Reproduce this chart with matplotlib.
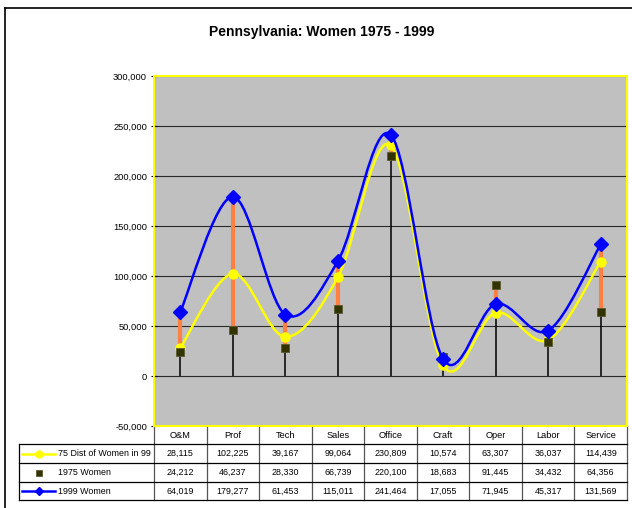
import matplotlib
matplotlib.use('Agg')
import matplotlib.pyplot as plt
from matplotlib.path import Path
from matplotlib.patches import PathPatch
import matplotlib.transforms as mtransforms
from matplotlib.lines import Line2D
import numpy as np

plt.rcParams['font.family'] = ['Liberation Sans', 'DejaVu Sans']

categories = ['O&M', 'Prof', 'Tech', 'Sales', 'Office', 'Craft', 'Oper', 'Labor', 'Service']
dist75 = [28115, 102225, 39167, 99064, 230809, 10574, 63307, 36037, 114439]
women1975 = [24212, 46237, 28330, 66739, 220100, 18683, 91445, 34432, 64356]
women1999 = [64019, 179277, 61453, 115011, 241464, 17055, 71945, 45317, 131569]
series_labels = ['75 Dist of Women in 99', '1975 Women', '1999 Women']
yticks = [-50000, 0, 50000, 100000, 150000, 200000, 250000, 300000]
title = 'Pennsylvania: Women 1975 - 1999'

W, H = 632, 508
fig = plt.figure(figsize=(W / 100, H / 100), dpi=100)
fig.patch.set_facecolor('white')


def fx(px):
    return px / W


def fy(py):
    return 1 - py / H


L, R, T, B = 154, 627, 76, 426
ax = fig.add_axes([fx(L), fy(B), (R - L) / W, (B - T) / H])
ax.set_facecolor('#C0C0C0')
n = len(categories)
x = np.arange(n)
ax.set_xlim(-0.5, n - 0.5)
ax.set_ylim(-50000, 300000)
ax.set_yticks(yticks)
ax.set_yticklabels([f'{v:,}' for v in yticks], fontsize=6.7)
ax.set_xticks([])
ax.yaxis.grid(True, color='#2a2a2a', lw=0.8)
ax.set_axisbelow(True)
for s in ax.spines.values():
    s.set_color('#FFFF00')
    s.set_linewidth(1.5)
    s.set_zorder(8)
ax.tick_params(axis='y', length=4, width=0.8, color='black', direction='inout', pad=3)


def smooth_path(xs, ys):
    pts = np.column_stack([xs, ys]).astype(float)
    verts = [pts[0]]
    codes = [Path.MOVETO]
    m = len(pts)
    for i in range(m - 1):
        p0 = pts[max(i - 1, 0)]
        p1 = pts[i]
        p2 = pts[i + 1]
        p3 = pts[min(i + 2, m - 1)]
        c1 = p1 + (p2 - p0) / 6.0
        c2 = p2 - (p3 - p1) / 6.0
        verts += [c1, c2, p2]
        codes += [Path.CURVE4] * 3
    return Path(verts, codes)


allv = np.array([dist75, women1975, women1999])
hi = allv.max(axis=0)
lo = allv.min(axis=0)
ax.vlines(x, 0, hi, color='black', lw=1.1, zorder=2)
ax.vlines(x, lo, hi, color='#FF8040', lw=3, zorder=3)
ax.add_patch(PathPatch(smooth_path(x, dist75), fill=False, edgecolor='#FFFF00', lw=1.8, zorder=4))
ax.plot(x, dist75, ls='none', marker='o', ms=6.5, color='#FFFF00', zorder=5)
ax.plot(x, women1975, ls='none', marker='s', ms=6.3, mfc='#333300', mec='#5a5a30', mew=0.6, zorder=5)
ax.add_patch(PathPatch(smooth_path(x, women1999), fill=False, edgecolor='#0000FF', lw=1.8, zorder=6))
ax.plot(x, women1999, ls='none', marker='D', ms=7.5, color='#0000FF', zorder=7)

# Title
fig.text(fx(322), fy(32), title, ha='center', va='center', fontsize=10, fontweight='bold')

# Outer chart border
fig.add_artist(Line2D([fx(5), fx(5)], [fy(8), fy(H + 5)], color='black', lw=1.2))
fig.add_artist(Line2D([fx(5), fx(W + 5)], [fy(8), fy(8)], color='black', lw=1.2))

# Data table
blend = mtransforms.blended_transform_factory(ax.transData, fig.transFigure)
row_tops = [426, 444, 463, 482, 500]
fs = 6.4
for yy in row_tops[1:]:
    fig.add_artist(Line2D([fx(19), fx(R)], [fy(yy), fy(yy)], color='black', lw=0.9))
fig.add_artist(Line2D([fx(19), fx(19)], [fy(444), fy(500)], color='black', lw=0.9))
for b in np.arange(n + 1) - 0.5:
    ax.add_artist(Line2D([b, b], [fy(426), fy(500)], transform=blend, color='#555555', lw=0.9, clip_on=False))
for i, c in enumerate(categories):
    ax.text(i, fy(435), c, transform=blend, ha='center', va='center', fontsize=6.7, clip_on=False)
series = [dist75, women1975, women1999]
for r, vals in enumerate(series):
    yc = (row_tops[r + 1] + row_tops[r + 2]) / 2
    for i, v in enumerate(vals):
        ax.text(i, fy(yc), f'{v:,}', transform=blend, ha='center', va='center', fontsize=fs, clip_on=False)
    fig.text(fx(58), fy(yc), series_labels[r], ha='left', va='center', fontsize=fs)

yc0 = (row_tops[1] + row_tops[2]) / 2
fig.add_artist(Line2D([fx(22), fx(55)], [fy(yc0), fy(yc0)], color='#FFFF00', lw=1.8))
fig.add_artist(Line2D([fx(38.5)], [fy(yc0)], ls='none', marker='o', ms=5, color='#FFFF00'))
yc1 = (row_tops[2] + row_tops[3]) / 2
fig.add_artist(Line2D([fx(38.5)], [fy(yc1)], ls='none', marker='s', ms=5, mfc='#333300', mec='#5a5a30', mew=0.6))
yc2 = (row_tops[3] + row_tops[4]) / 2
fig.add_artist(Line2D([fx(22), fx(55)], [fy(yc2), fy(yc2)], color='#0000FF', lw=1.8))
fig.add_artist(Line2D([fx(38.5)], [fy(yc2)], ls='none', marker='D', ms=4.5, color='#0000FF'))

fig.savefig('out.png', dpi=100)
